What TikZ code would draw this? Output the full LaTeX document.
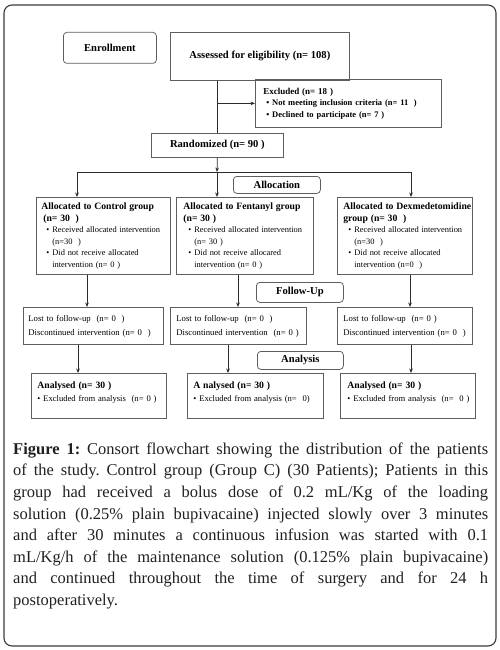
\documentclass[tikz,border=0pt]{standalone}
\usepackage{fontspec}
\setmainfont{Liberation Serif}
\usetikzlibrary{arrows.meta}
\definecolor{boxgray}{HTML}{5E5E5E}
\definecolor{linecol}{HTML}{2B2B2B}
\definecolor{framecol}{HTML}{3A3A3A}
\definecolor{captxt}{HTML}{231F20}
\newcommand\grptitle[1]{\mbox{\fontsize{9.7}{11.5}\selectfont\bfseries #1}}
\newcommand\grpbul{\hspace*{5pt}\makebox[6pt][l]{\textbullet}}
\newcommand\grpcont{\hspace*{11pt}}
\newcommand\nbr[1]{\mbox{#1}}
\begin{document}
\begin{tikzpicture}[x=1pt,y=-1pt,
  bx/.style={draw=boxgray, line width=0.75pt, anchor=north west, inner ysep=0pt, align=left},
  lbl/.style={draw=boxgray, line width=0.75pt, rounded corners=3.5pt, anchor=north west,
    inner sep=0pt, align=center, font=\fontsize{10.6}{12}\selectfont\bfseries},
  conn/.style={draw=linecol, line width=0.75pt},
  arr/.style={conn, -{Stealth[length=4.5pt,width=3.6pt]}},
  grpbox/.style={bx, minimum height=77pt, font=\fontsize{8.4}{11.5}\selectfont},
  lostbox/.style={bx, minimum height=37pt, font=\fontsize{8.7}{14}\selectfont},
  anabox/.style={bx, minimum height=45pt, font=\fontsize{8.6}{13}\selectfont},
]
\useasboundingbox (0,0) rectangle (500,650);
\draw[draw=framecol, line width=1.1pt, rounded corners=8pt] (4,5) rectangle (496,646);

% top row
\node[lbl, minimum width=93pt, minimum height=31pt] (enr) at (63,32) {Enrollment};
\node[bx, inner sep=0pt, minimum width=179pt, minimum height=48pt, align=center,
  font=\fontsize{10.6}{12}\selectfont\bfseries] (asm) at (170,32) {Assessed for eligibility (n= 108)};
\node[bx, inner xsep=8pt, text width=170pt, minimum height=48pt,
  font=\fontsize{8.5}{11.5}\selectfont\bfseries] (exc) at (255,79)
  {{\fontsize{9}{11.5}\selectfont Excluded (n= 18 )}\\
   \nbr{\hspace*{3pt}\textbullet\ Not meeting inclusion criteria (n= 11 \ )}\\
   \nbr{\hspace*{3pt}\textbullet\ Declined to participate (n= 7 )}};
\node[bx, inner sep=0pt, minimum width=132pt, minimum height=24pt, align=center,
  font=\fontsize{10.6}{12}\selectfont\bfseries] (rand) at (151,133) {Randomized (n= 90 )};

% stage labels
\node[lbl, minimum width=87pt, minimum height=17pt] (alloc) at (233,176) {Allocation};
\node[lbl, minimum width=87pt, minimum height=20pt] (fup) at (256,282) {Follow-Up};
\node[lbl, minimum width=86pt, minimum height=18pt] (anal) at (257,351) {Analysis};

% allocation boxes
\node[grpbox, inner xsep=5pt, text width=124pt] (g1) at (36,197)
  {\grptitle{Allocated to Control group}\\
   \grptitle{\hspace*{2pt}(n= 30 \ )}\\
   \nbr{\grpbul Received allocated intervention}\\
   \nbr{\grpcont(n=30 \ )}\\
   \nbr{\grpbul Did not receive allocated}\\
   \nbr{\grpcont intervention (n= 0 )}};
\node[grpbox, inner xsep=7pt, text width=123pt] (g2) at (176,197)
  {\grptitle{Allocated to Fentanyl group}\\
   \grptitle{(n= 30 )}\\
   \nbr{\grpbul Received allocated intervention}\\
   \nbr{\grpcont(n= 30 )}\\
   \nbr{\grpbul Did not receive allocared}\\
   \nbr{\grpcont intervention (n= 0 )}};
\node[grpbox, inner xsep=6pt, text width=123pt] (g3) at (337,197)
  {\grptitle{Allocated to Dexmedetomidine}\\
   \grptitle{group (n= 30 \ )}\\
   \nbr{\grpbul Received allocated intervention}\\
   \nbr{\grpcont(n=30 \ )}\\
   \nbr{\grpbul Did not receive allocated}\\
   \nbr{\grpcont intervention (n=0 \ )}};

% follow-up boxes
\node[lostbox, inner xsep=5pt, text width=130pt] (l1) at (23,307)
  {\nbr{Lost to follow-up \ (n= 0 \ )}\\ \nbr{Discontinued intervention (n= 0 \ )}};
\node[lostbox, inner xsep=6pt, text width=124pt] (l2) at (170,307)
  {\nbr{Lost to follow-up \ (n= 0 \ )}\\ \nbr{Discontinued intervention \ (n= 0 )}};
\node[lostbox, inner xsep=6pt, text width=123pt] (l3) at (337,307)
  {\nbr{Lost to follow-up \ (n= 0 )}\\ \nbr{Discontinued intervention (n= 0 \ )}};

% analysis boxes
\node[anabox, inner xsep=6pt, text width=123pt] (a1) at (31,373)
  {\nbr{\fontsize{9.7}{13}\selectfont\bfseries Analysed (n= 30 )}\\
   \nbr{\textbullet\ Excluded from analysis \ (n= 0 )}\\[-4pt]~};
\node[anabox, inner xsep=6pt, text width=124pt] (a2) at (187,373)
  {\nbr{\fontsize{9.7}{13}\selectfont\bfseries A nalysed (n= 30 )}\\
   \nbr{\textbullet\ Excluded from analysis (n= \ 0)}\\[-4pt]~};
\node[anabox, inner xsep=7pt, text width=121pt] (a3) at (340,373)
  {\nbr{\fontsize{9.7}{13}\selectfont\bfseries Analysed (n= 30 )}\\
   \nbr{\textbullet\ Excluded from analysis \ (n= \ 0 )}\\[-4pt]~};

% connectors
\draw[conn] (asm.south -| rand.north) -- (rand.north);
\draw[arr] (rand.north |- exc.west) -- (exc.west);
\coordinate (jm) at (217,172);
\coordinate (jl) at (77,172);
\coordinate (jr) at (411,172);
\draw[arr] (rand.south) -- (jm);
\draw[conn] (jl) -- (jr);
\draw[arr] (jl) -- (jl |- g1.north);
\draw[arr] (jm) -- (jm |- g2.north);
\draw[arr] (jr) -- (jr |- g3.north);
\coordinate (d1) at (87,290);
\coordinate (d2) at (238,290);
\coordinate (d3) at (410,290);
\draw[arr] (d1 |- g1.south) -- (d1 |- l1.north);
\draw[arr] (d2 |- g2.south) -- (d2 |- l2.north);
\draw[arr] (d3 |- g3.south) -- (d3 |- l3.north);
\coordinate (e1) at (78,360);
\coordinate (e2) at (228,360);
\coordinate (e3) at (411,360);
\draw[arr] (e1 |- l1.south) -- (e1 |- a1.north);
\draw[arr] (e2 |- l2.south) -- (e2 |- a2.north);
\draw[arr] (e3 |- l3.south) -- (e3 |- a3.north);

% caption
\node[anchor=north west, inner sep=0pt, text width=475pt, align=justify, text=captxt,
  font=\fontsize{16.5}{21.6}\selectfont] (cap) at (13,442.5)
  {\frenchspacing\emergencystretch=20pt\textbf{Figure 1:} Consort flowchart showing the distribution of the patients\linebreak
   of the study. Control group (Group C) (30 Patients); Patients in this\linebreak
   group had received a bolus dose of 0.2 mL/Kg of the loading\linebreak
   solution (0.25\% plain bupivacaine) injected slowly over 3 minutes\linebreak
   and after 30 minutes a continuous infusion was started with 0.1\linebreak
   mL/Kg/h of the maintenance solution (0.125\% plain bupivacaine)\linebreak
   and continued throughout the time of surgery and for 24 h\linebreak
   postoperatively.};
\end{tikzpicture}
\end{document}
